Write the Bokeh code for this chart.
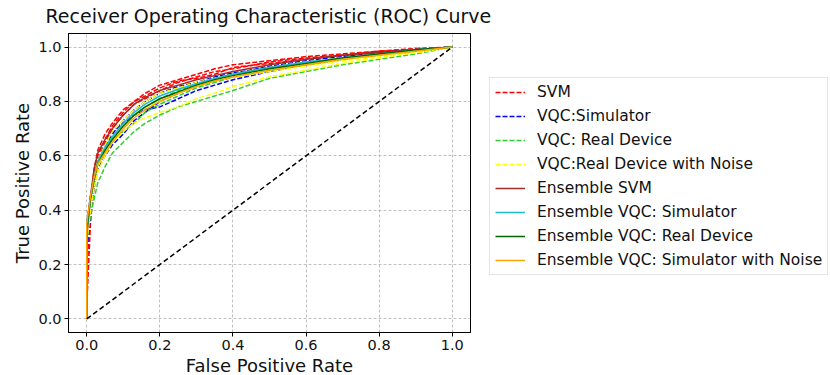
from bokeh.plotting import figure
from bokeh.layouts import row, column
from bokeh.models import Legend, LegendItem, Range1d, FixedTicker, CustomJSTickFormatter, Title
from bokeh.embed import file_html
from bokeh.resources import INLINE

# Shared false-positive-rate grid
fpr = [0, 0, 0.01, 0.02, 0.03, 0.05, 0.07, 0.1, 0.13, 0.16, 0.2, 0.25, 0.3, 0.35, 0.4, 0.5, 0.6, 0.7, 0.8, 0.9, 1.0]

# Per-fold ROC curves (TPR) for base models
svm_1 = [0, 0.15, 0.42, 0.55, 0.62, 0.68, 0.72, 0.77, 0.80, 0.83, 0.86, 0.88, 0.90, 0.92, 0.935, 0.95, 0.965, 0.975, 0.985, 0.99, 1]
svm_2 = [0, 0.05, 0.35, 0.50, 0.58, 0.65, 0.70, 0.75, 0.79, 0.81, 0.84, 0.87, 0.89, 0.91, 0.92, 0.945, 0.96, 0.97, 0.98, 0.99, 1]
svm_3 = [0, 0.25, 0.40, 0.52, 0.60, 0.66, 0.71, 0.76, 0.80, 0.82, 0.85, 0.875, 0.885, 0.90, 0.925, 0.94, 0.955, 0.97, 0.985, 0.995, 1]

vqc_sim_1 = [0, 0.30, 0.40, 0.48, 0.55, 0.60, 0.64, 0.68, 0.73, 0.76, 0.80, 0.83, 0.86, 0.88, 0.90, 0.93, 0.95, 0.965, 0.98, 0.99, 1]
vqc_sim_2 = [0, 0.25, 0.38, 0.50, 0.57, 0.63, 0.68, 0.73, 0.77, 0.80, 0.83, 0.855, 0.87, 0.89, 0.905, 0.925, 0.94, 0.96, 0.975, 0.99, 1]
vqc_sim_3 = [0, 0.35, 0.45, 0.52, 0.58, 0.64, 0.69, 0.72, 0.75, 0.77, 0.78, 0.81, 0.84, 0.86, 0.88, 0.91, 0.935, 0.955, 0.975, 0.99, 1]

vqc_real_1 = [0, 0.30, 0.38, 0.44, 0.50, 0.56, 0.61, 0.65, 0.69, 0.72, 0.75, 0.78, 0.80, 0.82, 0.84, 0.885, 0.91, 0.935, 0.955, 0.975, 1]
vqc_real_2 = [0, 0.28, 0.42, 0.50, 0.56, 0.62, 0.67, 0.71, 0.75, 0.78, 0.81, 0.84, 0.86, 0.88, 0.90, 0.92, 0.94, 0.96, 0.975, 0.99, 1]
vqc_real_3 = [0, 0.35, 0.44, 0.52, 0.58, 0.63, 0.66, 0.69, 0.72, 0.76, 0.79, 0.82, 0.85, 0.87, 0.89, 0.915, 0.935, 0.955, 0.97, 0.985, 1]

vqc_noise_1 = [0, 0.28, 0.40, 0.48, 0.54, 0.60, 0.65, 0.69, 0.72, 0.74, 0.76, 0.78, 0.81, 0.83, 0.855, 0.89, 0.915, 0.94, 0.96, 0.98, 1]
vqc_noise_2 = [0, 0.32, 0.43, 0.52, 0.58, 0.64, 0.69, 0.73, 0.77, 0.80, 0.83, 0.85, 0.87, 0.885, 0.90, 0.925, 0.945, 0.96, 0.975, 0.99, 1]
vqc_noise_3 = [0, 0.30, 0.42, 0.50, 0.56, 0.62, 0.67, 0.71, 0.75, 0.78, 0.80, 0.83, 0.86, 0.88, 0.89, 0.91, 0.93, 0.95, 0.965, 0.98, 1]

# Ensemble ROC curves
ens_svm = [0, 0.30, 0.45, 0.55, 0.61, 0.66, 0.70, 0.75, 0.79, 0.815, 0.84, 0.86, 0.88, 0.895, 0.91, 0.935, 0.955, 0.97, 0.98, 0.99, 1]
ens_vqc_sim = [0, 0.32, 0.44, 0.52, 0.58, 0.63, 0.67, 0.72, 0.76, 0.79, 0.82, 0.845, 0.865, 0.885, 0.90, 0.925, 0.945, 0.96, 0.975, 0.99, 1]
ens_vqc_real = [0, 0.33, 0.44, 0.51, 0.57, 0.62, 0.66, 0.71, 0.75, 0.78, 0.81, 0.835, 0.86, 0.88, 0.895, 0.92, 0.94, 0.96, 0.975, 0.99, 1]
ens_vqc_noise = [0, 0.35, 0.45, 0.52, 0.57, 0.61, 0.65, 0.70, 0.74, 0.77, 0.80, 0.83, 0.855, 0.875, 0.89, 0.915, 0.935, 0.955, 0.97, 0.985, 1]

chance_x = [0, 1]
chance_y = [0, 1]

base_series = [
    ("SVM", "#ff0000", [svm_1, svm_2, svm_3]),
    ("VQC:Simulator", "#0000ff", [vqc_sim_1, vqc_sim_2, vqc_sim_3]),
    ("VQC: Real Device", "#32cd32", [vqc_real_1, vqc_real_2, vqc_real_3]),
    ("VQC:Real Device with Noise", "#ffff00", [vqc_noise_1, vqc_noise_2, vqc_noise_3]),
]
ens_series = [
    ("Ensemble SVM", "#a52a2a", ens_svm),
    ("Ensemble VQC: Simulator", "#17becf", ens_vqc_sim),
    ("Ensemble VQC: Real Device", "#006400", ens_vqc_real),
    ("Ensemble VQC: Simulator with Noise", "#ffa500", ens_vqc_noise),
]

TITLE = "Receiver Operating Characteristic (ROC) Curve"
FONT = "DejaVu Sans"
DASH = "5 2"

# ---- title strip ----
tf = figure(width=830, height=32, output_backend="svg", toolbar_location=None,
            x_range=Range1d(0, 1), y_range=Range1d(0, 1), min_border=0,
            outline_line_color=None, title=None)
tf.axis.visible = False
tf.grid.visible = False
t = Title(text=TITLE, text_font=FONT, text_font_size="19px", text_font_style="normal",
          text_color="#111111", align="left", offset=45, standoff=4)
tf.add_layout(t, "above")

# ---- main plot ----
p = figure(frame_width=402, frame_height=299, output_backend="svg", toolbar_location=None,
           x_range=Range1d(-0.05, 1.05), y_range=Range1d(-0.05, 1.05),
           min_border_left=68, min_border_right=2, min_border_top=1, min_border_bottom=43)

for label, color, curves in base_series:
    for tpr in curves:
        p.line(fpr, tpr, line_color=color, line_width=1.5, line_dash=DASH)
for label, color, tpr in ens_series:
    p.line(fpr, tpr, line_color=color, line_width=1.5)

p.line(chance_x, chance_y, line_color="black", line_width=1.5, line_dash="5 3")

fmt = CustomJSTickFormatter(code="return tick.toFixed(1);")
for ax, lab in ((p.xaxis[0], "False Positive Rate"), (p.yaxis[0], "True Positive Rate")):
    ax.axis_label = lab
    ax.axis_label_text_font = FONT
    ax.axis_label_text_font_size = "18px"
    ax.axis_label_text_font_style = "normal"
    ax.axis_label_text_color = "#111111"
    ax.major_label_text_font = FONT
    ax.major_label_text_font_size = "14.5px"
    ax.major_label_text_color = "#111111"
    ax.ticker = FixedTicker(ticks=[0, 0.2, 0.4, 0.6, 0.8, 1.0])
    ax.formatter = fmt
    ax.minor_tick_line_color = None
    ax.major_tick_in = 0
    ax.major_tick_out = 4
    ax.axis_line_color = "black"
    ax.major_tick_line_color = "black"
    ax.axis_label_standoff = 2
    ax.major_label_standoff = 3

p.outline_line_color = "black"
p.outline_line_alpha = 1
p.grid.grid_line_color = "#b0b0b0"
p.grid.grid_line_dash = "3 2"
p.grid.grid_line_width = 0.8

# ---- legend panel to the right of the plot ----
lp = figure(width=358, height=343, output_backend="svg", toolbar_location=None,
            x_range=Range1d(0, 1), y_range=Range1d(0, 1),
            min_border=0, outline_line_color=None)
lp.axis.visible = False
lp.grid.visible = False

items = []
for label, color, curves in base_series:
    r = lp.line([-10, -9], [-10, -9], line_color=color, line_width=1.5, line_dash=DASH)
    items.append(LegendItem(label=label, renderers=[r]))
for label, color, tpr in ens_series:
    r = lp.line([-10, -9], [-10, -9], line_color=color, line_width=1.5)
    items.append(LegendItem(label=label, renderers=[r]))

legend = Legend(items=items, location=(17, 54))
legend.label_text_font = FONT
legend.label_text_font_size = "15.5px"
legend.label_text_color = "#111111"
legend.glyph_width = 30
legend.glyph_height = 16
legend.label_height = 16
legend.label_standoff = 12
legend.spacing = 6
legend.padding = 5
legend.margin = 0
legend.border_line_color = "#cccccc"
legend.border_line_width = 1
legend.background_fill_alpha = 1
lp.add_layout(legend)

layout = column(tf, row(p, lp, spacing=0), spacing=0)
open("out.html", "w").write(file_html(layout, INLINE))
